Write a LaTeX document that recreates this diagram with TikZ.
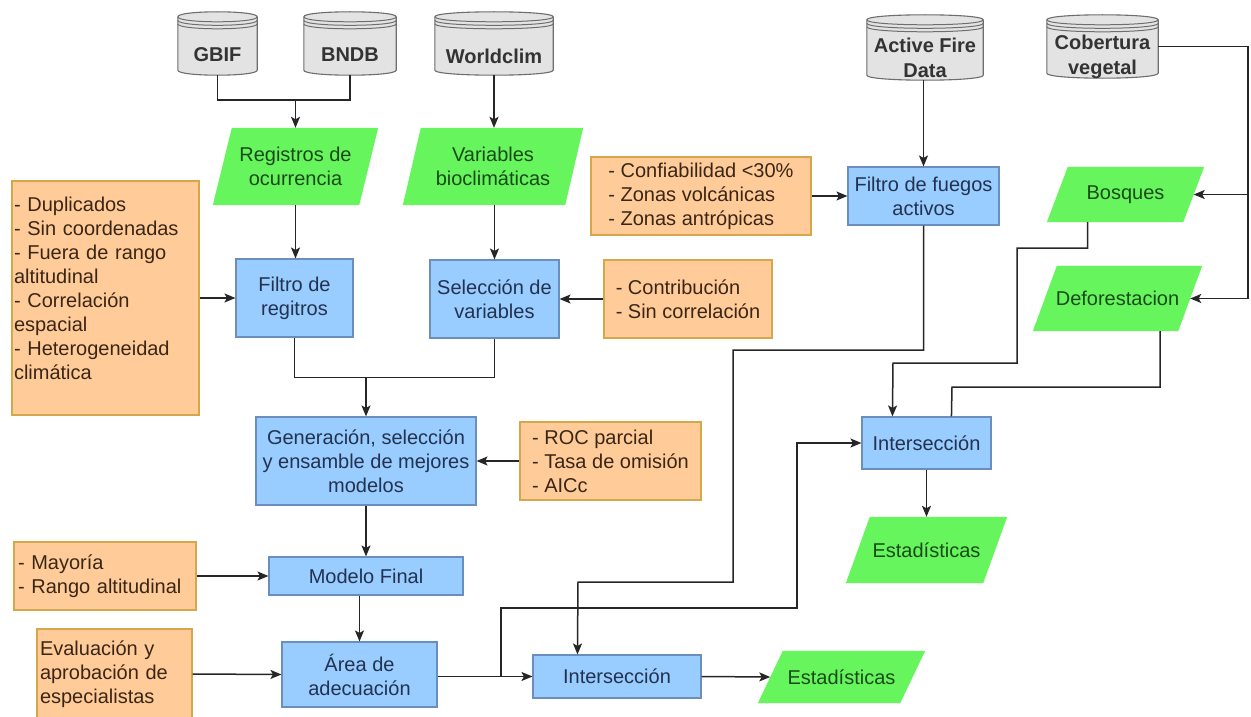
\documentclass[tikz,border=0pt]{standalone}
\usepackage{fontspec}
\setmainfont{Liberation Sans}
\usetikzlibrary{arrows.meta,calc,backgrounds}
\definecolor{bfill}{HTML}{99CCFF}
\definecolor{bdraw}{HTML}{6C8EBF}
\definecolor{btext}{HTML}{22324F}
\definecolor{ofill}{HTML}{FFCC99}
\definecolor{odraw}{HTML}{D6A64B}
\definecolor{otext}{HTML}{3A2616}
\definecolor{gfill}{HTML}{66F55C}
\definecolor{gtext}{HTML}{1A4A1A}
\definecolor{dfill}{HTML}{E3E3E3}
\definecolor{ddraw}{HTML}{6E6E6E}
\definecolor{dtext}{HTML}{333333}
\definecolor{lcol}{HTML}{262626}
\tikzset{
 base/.style={font=\fontsize{20}{24}\selectfont, inner sep=0pt, align=center},
 bluebox/.style={base, rectangle, fill=bfill, draw=bdraw, line width=1.1pt, text=btext},
 orabox/.style={base, rectangle, fill=ofill, draw=odraw, line width=1.1pt, text=otext, align=left},
 greenpara/.style={base, rectangle, text=gtext},
 dbbox/.style={rectangle, inner sep=0pt},
 dbtext/.style={base, font=\fontsize{20}{25}\selectfont\bfseries, text=dtext},
 conn/.style={draw=lcol, line width=1.5pt},
 arr/.style={conn, -{Stealth[length=11pt,width=9pt,inset=2.5pt]}},
}
\newcommand\parafill[2]{%
 \begin{scope}[on background layer]
 \path[fill=gfill] let \p1=(#1.south west), \p2=(#1.north east), \n1={#2/2} in
  ({\x1-\n1*1pt},\y1) -- ({\x2-\n1*1pt},\y1) -- ({\x2+\n1*1pt},\y2) -- ({\x1+\n1*1pt},\y2) -- cycle;
 \end{scope}}
\newcommand\dbshape[1]{%
 \begin{scope}[on background layer]
 \path[fill=dfill, draw=ddraw, line width=1.1pt] let \p1=(#1.north west), \p2=(#1.south east) in
  (\x1,{\y1-5pt}) -- (\x1,{\y2+5pt}) .. controls (\x1,{\y2-1.667pt}) and (\x2,{\y2-1.667pt}) .. (\x2,{\y2+5pt})
  -- (\x2,{\y1-5pt}) .. controls (\x2,{\y1+1.667pt}) and (\x1,{\y1+1.667pt}) .. (\x1,{\y1-5pt}) -- cycle;
 \path[draw=ddraw, line width=1pt] let \p1=(#1.north west), \p2=(#1.south east) in
  (\x1,{\y1-5pt}) .. controls (\x1,{\y1-11.667pt}) and (\x2,{\y1-11.667pt}) .. (\x2,{\y1-5pt})
  (\x1,{\y1-8.5pt}) .. controls (\x1,{\y1-15.167pt}) and (\x2,{\y1-15.167pt}) .. (\x2,{\y1-8.5pt})
  (\x1,{\y1-12pt}) .. controls (\x1,{\y1-18.667pt}) and (\x2,{\y1-18.667pt}) .. (\x2,{\y1-12pt});
 \end{scope}}
\begin{document}
\begin{tikzpicture}[x=1pt,y=-1pt]
\begin{scope}[on background layer]
\fill[white] (0,0) rectangle (1251,717);
\end{scope}
\useasboundingbox (0,0) rectangle (1251,717);

% databases
\node[dbbox, minimum width=79pt, minimum height=63pt] (gbif) at (217.5,43.5) {};
\node[dbtext] (gbif-t) at (217.5,55) {GBIF};
\dbshape{gbif}
\node[dbbox, minimum width=92pt, minimum height=63pt] (bndb) at (350,43.5) {};
\node[dbtext] (bndb-t) at (350,55) {BNDB};
\dbshape{bndb}
\node[dbbox, minimum width=118pt, minimum height=63pt] (wclim) at (494,43.5) {};
\node[dbtext] (wclim-t) at (494,56) {Worldclim};
\dbshape{wclim}
\node[dbbox, minimum width=116pt, minimum height=65pt] (afd) at (925,47.5) {};
\node[dbtext] (afd-t) at (925,57.5) {Active Fire\\Data};
\dbshape{afd}
\node[dbbox, minimum width=111pt, minimum height=63pt] (cob) at (1102.5,46.5) {};
\node[dbtext] (cob-t) at (1102.5,57) {Cobertura\\vegetal};
\dbshape{cob}

% green data
\node[greenpara, minimum width=146pt, minimum height=77pt] (reg) at (295.5,166.5) {Registros de\\ocurrencia};
\parafill{reg}{19}
\node[greenpara, minimum width=162pt, minimum height=77pt] (var) at (493,166.5) {Variables\\bioclimáticas};
\parafill{var}{18}
\node[greenpara, minimum width=136pt, minimum height=55pt] (bosq) at (1125.5,194.5) {Bosques};
\parafill{bosq}{21}
\node[greenpara, minimum width=145pt, minimum height=65pt] (defo) at (1117.5,298.5) {Deforestacion};
\parafill{defo}{24}
\node[greenpara, minimum width=137pt, minimum height=66pt] (est2) at (926.5,550) {Estadísticas};
\parafill{est2}{24}
\node[greenpara, minimum width=142pt, minimum height=52pt] (est1) at (841.5,677) {Estadísticas};
\parafill{est1}{25}

% blue processes
\node[bluebox, minimum width=117pt, minimum height=78pt] (filtreg) at (294.5,298) {Filtro de\\regitros};
\node[bluebox, minimum width=129pt, minimum height=78pt] (selvar) at (494.5,299) {Selección de\\variables};
\node[bluebox, minimum width=220pt, minimum height=88pt] (gen) at (366,461) {Generación, selección\\y ensamble de mejores\\modelos};
\node[bluebox, minimum width=194pt, minimum height=38pt] (modfin) at (366,576) {Modelo Final};
\node[bluebox, minimum width=155pt, minimum height=65pt] (area) at (359.5,674.5) {Área de\\adecuación};
\node[bluebox, minimum width=168pt, minimum height=43pt] (int1) at (617,676.5) {Intersección};
\node[bluebox, minimum width=129pt, minimum height=52pt] (int2) at (926.5,443) {Intersección};
\node[bluebox, minimum width=151pt, minimum height=58pt] (filfue) at (923.5,196) {Filtro de fuegos\\activos};

% orange criteria
\node[orabox, minimum height=234pt, text width=183pt, inner xsep=2pt] (dup) at (105.5,298)
 {- Duplicados\\- Sin coordenadas\\- Fuera de rango\\altitudinal\\- Correlación\\espacial\\- Heterogeneidad\\climática\\[-4pt]\mbox{}};
\node[orabox, minimum width=168pt, minimum height=78pt] (contrib) at (688,299) {- Contribución\\- Sin correlación};
\node[orabox, minimum width=220pt, minimum height=78pt] (confi) at (701,196) {- Confiabilidad <30\%\\- Zonas volcánicas\\- Zonas antrópicas};
\node[orabox, minimum width=181pt, minimum height=78pt] (roc) at (610.5,461) {- ROC parcial\\- Tasa de omisión\\- AICc};
\node[orabox, minimum height=68pt, text width=174pt, inner xsep=4pt] (mayo) at (105,576) {- Mayoría\\- Rango altitudinal};
\node[orabox, minimum height=90pt, text width=149pt, inner xsep=3pt] (eval) at (114.5,674) {Evaluación y\\aprobación de\\especialistas};

% connectors
\draw[conn] (gbif.south) -- ++(0,25) -| (bndb.south);
\coordinate (j1) at (295.5,100);
\draw[arr] (j1) -- (reg.north);
\draw[arr] (wclim.south) -- (wclim.south |- var.north);
\draw[arr] (reg.south) -- (reg.south |- filtreg.north);
\draw[arr] (var.south -| selvar.north) -- (selvar.north);
\draw[arr] (dup.east) -- (filtreg.west);
\draw[arr] (contrib.west) -- (selvar.east);
\draw[conn] (filtreg.south) -- ++(0,40) -| (selvar.south);
\coordinate (j2) at (366,377);
\draw[arr] (j2) -- (gen.north);
\draw[arr] (roc.west) -- (gen.east);
\draw[arr] (gen.south) -- (modfin.north);
\draw[arr] (mayo.east) -- (modfin.west);
\draw[arr] (area.north |- modfin.south) -- (area.north);
\draw[arr] (eval.east) -- (area.west);
\draw[arr] (int1.west -| area.east) -- (int1.west);
\coordinate (j3) at (501,676.5);
\draw[arr] (j3) |- (797,608) |- (int2.west);
\draw[arr] (int1.east) -- (est1.west);
\draw[arr] (confi.east) -- (filfue.west);
\draw[arr] (afd.south -| filfue.north) -- (filfue.north);
\draw[arr] (filfue.south) |- (733,350) |- (578,582) -- ($(int1.north west)+(45,0)$);
\coordinate (c1) at (1248,46.5);
\coordinate (c2) at (1248,194.5);
\coordinate (c3) at (1248,298.5);
\draw[conn] (cob.east) -- (c1) -- (c3);
\draw[arr] (c2) -- (bosq.east);
\draw[arr] (c3) -- (defo.east);
\draw[arr] ($(bosq.south)+(-38,0)$) |- (1017,248) |- (893,363) -- ($(int2.north west)+(31,0)$);
\draw[conn] ($(defo.south)+(42.5,0)$) |- (952,387) -- ($(int2.north west)+(90,0)$);
\draw[arr] (int2.south) -- (est2.north);
\end{tikzpicture}
\end{document}
